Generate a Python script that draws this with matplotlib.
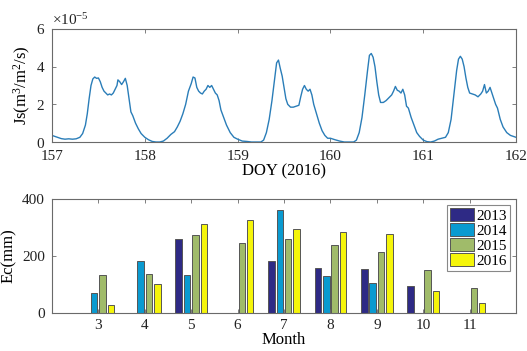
import numpy as np
import matplotlib
matplotlib.use("Agg")
import matplotlib.pyplot as plt
from matplotlib.ticker import ScalarFormatter

plt.rcParams['font.family'] = ['Liberation Serif', 'DejaVu Serif']
plt.rcParams['mathtext.fontset'] = 'custom'
plt.rcParams['mathtext.rm'] = 'Liberation Serif'
plt.rcParams['mathtext.it'] = 'Liberation Serif:italic'

# 上段: 樹液流 Js (単位 1e-5 m3/m2/s)
doy = [
    157.00, 157.03, 157.06, 157.10, 157.14, 157.18, 157.22, 157.26, 157.30, 157.33,
    157.36, 157.38, 157.40, 157.42, 157.44, 157.46, 157.48, 157.50, 157.52, 157.54,
    157.56, 157.58, 157.60, 157.62, 157.64, 157.66, 157.68, 157.70, 157.71, 157.73,
    157.75, 157.77, 157.79, 157.81, 157.83, 157.85, 157.87, 157.90, 157.93, 157.96,
    158.00, 158.04, 158.08, 158.12, 158.16, 158.20, 158.24, 158.28, 158.32, 158.35,
    158.38, 158.41, 158.44, 158.47, 158.50, 158.52, 158.54, 158.56, 158.58, 158.60,
    158.62, 158.64, 158.66, 158.68, 158.70, 158.72, 158.74, 158.76, 158.78, 158.80,
    158.82, 158.85, 158.88, 158.92, 158.96, 159.00, 159.05, 159.10, 159.15, 159.20,
    159.25, 159.28, 159.31, 159.34, 159.37, 159.40, 159.42, 159.44, 159.46, 159.48,
    159.50, 159.52, 159.54, 159.57, 159.60, 159.63, 159.66, 159.68, 159.70, 159.72,
    159.74, 159.76, 159.78, 159.80, 159.82, 159.85, 159.88, 159.91, 159.94, 159.97,
    160.00, 160.05, 160.10, 160.15, 160.20, 160.25, 160.28, 160.31, 160.34, 160.37,
    160.40, 160.42, 160.44, 160.46, 160.48, 160.50, 160.52, 160.54, 160.57, 160.60,
    160.63, 160.66, 160.68, 160.70, 160.72, 160.74, 160.76, 160.78, 160.80, 160.82,
    160.84, 160.87, 160.90, 160.93, 160.96, 161.00, 161.04, 161.08, 161.12, 161.16,
    161.20, 161.24, 161.27, 161.30, 161.33, 161.36, 161.38, 161.40, 161.42, 161.44,
    161.46, 161.48, 161.50, 161.53, 161.56, 161.59, 161.62, 161.64, 161.66, 161.68,
    161.70, 161.72, 161.74, 161.76, 161.78, 161.80, 161.83, 161.86, 161.90, 161.94,
    161.98, 162.00,
]
js = [
    0.35, 0.30, 0.25, 0.18, 0.15, 0.17, 0.15, 0.17, 0.25, 0.45,
    0.90, 1.50, 2.30, 3.00, 3.35, 3.45, 3.38, 3.40, 3.20, 2.90,
    2.70, 2.60, 2.50, 2.55, 2.50, 2.60, 2.80, 3.00, 3.30, 3.20,
    3.05, 3.20, 3.38, 3.00, 2.30, 1.60, 1.40, 1.00, 0.70, 0.45,
    0.25, 0.12, 0.03, 0.00, 0.00, 0.05, 0.20, 0.40, 0.55, 0.80,
    1.10, 1.50, 2.00, 2.70, 3.10, 3.45, 3.40, 2.90, 2.70, 2.60,
    2.55, 2.70, 2.80, 3.00, 2.90, 3.00, 2.80, 2.60, 2.50, 2.20,
    1.70, 1.30, 0.90, 0.50, 0.25, 0.15, 0.05, 0.03, 0.00, 0.00,
    0.00, 0.10, 0.50, 1.20, 2.20, 3.40, 4.20, 4.35, 3.90, 3.50,
    2.90, 2.30, 2.00, 1.85, 1.85, 1.90, 1.95, 2.40, 2.80, 3.00,
    2.80, 2.70, 2.80, 2.50, 2.00, 1.50, 1.00, 0.60, 0.35, 0.20,
    0.20, 0.12, 0.05, 0.00, 0.00, 0.00, 0.10, 0.50, 1.30, 2.50,
    3.80, 4.60, 4.70, 4.50, 4.00, 3.20, 2.50, 2.10, 2.10, 2.20,
    2.35, 2.50, 2.70, 2.95, 2.75, 2.70, 2.60, 2.80, 2.50, 1.90,
    1.80, 1.30, 0.90, 0.50, 0.30, 0.10, 0.02, 0.00, 0.05, 0.15,
    0.20, 0.25, 0.50, 1.20, 2.50, 3.80, 4.40, 4.55, 4.40, 4.00,
    3.40, 2.90, 2.60, 2.55, 2.50, 2.40, 2.55, 2.70, 3.05, 2.60,
    2.70, 2.90, 2.60, 2.30, 2.00, 1.80, 1.20, 0.80, 0.50, 0.35,
    0.28, 0.25,
]

# 下段: 月別 Ec (mm)
months = [3, 4, 5, 6, 7, 8, 9, 10, 11]
years = ['2013', '2014', '2015', '2016']
ec_2013 = [0, 0, 260, 0, 183, 158, 154, 93, 0]
ec_2014 = [69, 181, 135, 0, 360, 129, 104, 0, 0]
ec_2015 = [135, 138, 273, 247, 259, 237, 213, 150, 86]
ec_2016 = [29, 100, 312, 328, 294, 283, 278, 76, 36]
bar_colors = ['#2e2a85', '#0a9ad0', '#a0bb6a', '#f5f50a']

fig = plt.figure(figsize=(5.27, 3.51), dpi=100)
ax1 = fig.add_axes([0.0987, 0.5954, 0.8805, 0.322])
ax2 = fig.add_axes([0.0987, 0.1083, 0.8805, 0.3248])

edge = '#6a6a6a'
fs = 11

# 上段の折れ線
ax1.plot(doy, np.array(js) * 1e-5, color='#2a7db8', linewidth=1.0)
ax1.set_xlim(157, 162)
ax1.set_ylim(0, 6e-5)
ax1.set_xticks([157, 158, 159, 160, 161, 162])
ax1.set_yticks([0, 2e-5, 4e-5, 6e-5])
fmt = ScalarFormatter(useMathText=True)
fmt.set_powerlimits((0, 0))
ax1.yaxis.set_major_formatter(fmt)
ax1.yaxis.get_offset_text().set_fontsize(fs)
ax1.set_xlabel('DOY (2016)', fontsize=fs + 1, labelpad=0)
ax1.set_ylabel('Js(m$^3$/m$^2$/s)', fontsize=fs + 1, labelpad=2)

# 下段の棒グラフ
x = np.array(months)
offsets = [-0.27, -0.09, 0.09, 0.27]
for vals, yr, c, off in zip([ec_2013, ec_2014, ec_2015, ec_2016], years, bar_colors, offsets):
    ax2.bar(x + off, vals, width=0.14, color=c, edgecolor='#555555', linewidth=0.7, label=yr)
ax2.set_xlim(2, 12)
ax2.set_ylim(0, 400)
ax2.set_xticks(months)
ax2.set_yticks([0, 200, 400])
ax2.set_xlabel('Month', fontsize=fs + 1, labelpad=0)
ax2.set_ylabel('Ec(mm)', fontsize=fs + 1, labelpad=4)
leg = ax2.legend(loc='upper right', fontsize=fs, frameon=True, fancybox=False,
                 borderaxespad=0.4, handlelength=1.6, handleheight=0.9,
                 handletextpad=0.15, labelspacing=0.02, borderpad=0.2)
leg.get_frame().set_edgecolor(edge)
leg.get_frame().set_linewidth(0.8)

for ax in (ax1, ax2):
    ax.tick_params(direction='in', top=True, right=True, labelsize=fs,
                   length=3, width=0.6, colors=edge, labelcolor='#222222')
    ax.tick_params(axis='x', pad=4)
    ax.tick_params(axis='y', pad=5)
    for s in ax.spines.values():
        s.set_color(edge)
        s.set_linewidth(0.8)
ax1.tick_params(axis='x', pad=6)

fig.savefig('out.png', dpi=100)
